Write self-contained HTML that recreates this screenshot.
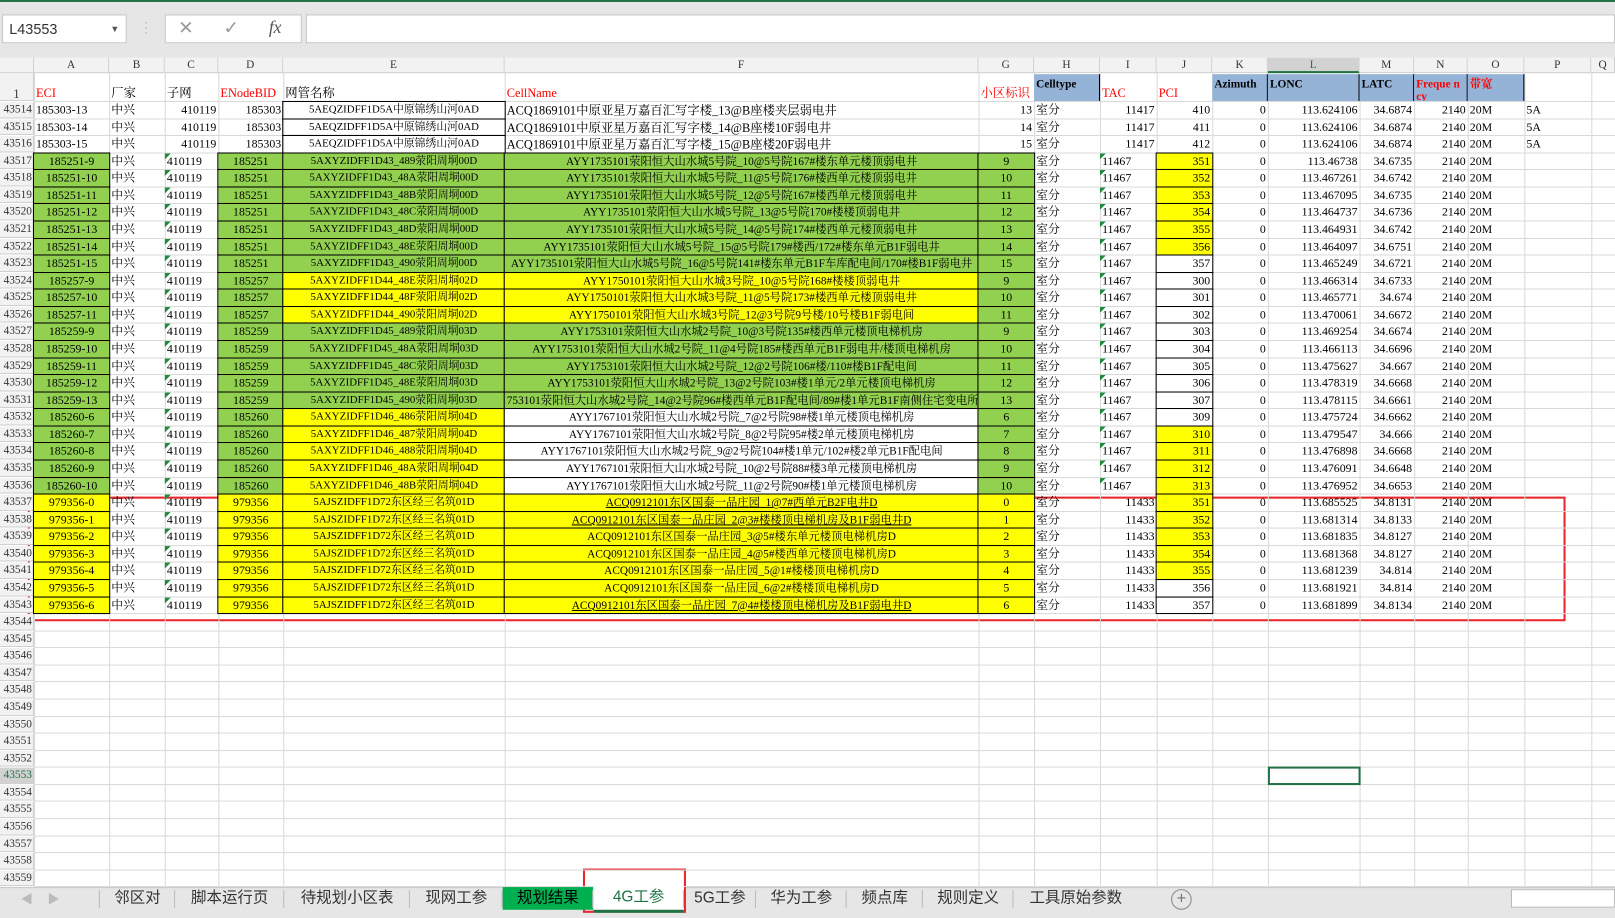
<!DOCTYPE html>
<html><head><meta charset="utf-8">
<style>
html,body{margin:0;padding:0;width:1615px;height:917px;overflow:hidden;background:#fff;}
#wrap{position:absolute;left:0;top:0;width:1568px;height:890px;transform-origin:0 0;transform:scale(1.02997,1.0303);background:#fff;font-family:"Liberation Serif","Noto Serif CJK SC",serif;}
.c{position:absolute;box-sizing:border-box;white-space:nowrap;overflow:hidden;font-size:11.5px;line-height:16px;padding:0 2px;color:#000;}
.hd{position:absolute;box-sizing:border-box;background:#f2f2f2;border-right:1px solid #d0d0d0;border-bottom:1px solid #d0d0d0;font-size:11px;text-align:center;color:#333;}
.tab{position:absolute;top:861px;height:22px;line-height:22px;font-family:"Liberation Sans","Noto Sans CJK SC",sans-serif;font-size:15px;color:#333;text-align:center;}
.sep{position:absolute;top:864px;width:1px;height:17px;background:#bbb;}
</style></head><body>
<div id="wrap">
  <div style="position:absolute;left:0;top:0;width:1568px;height:2px;background:#217346"></div>
  <div style="position:absolute;left:0;top:2px;width:1568px;height:54px;background:#e6e6e6"></div>
  <div style="position:absolute;left:2px;top:14px;width:121px;height:28px;background:#fff;border:1px solid #c6c6c6;box-sizing:border-box;font-family:'Liberation Sans',sans-serif;font-size:14px;line-height:26px;padding-left:6px;color:#333">L43553<span style="position:absolute;right:6px;top:0;font-size:9px;color:#555">▼</span></div>
  <div style="position:absolute;left:140px;top:20px;color:#aaa;font-size:12px;line-height:5px">·<br>·<br>·</div>
  <div style="position:absolute;left:160px;top:14px;width:133px;height:28px;background:#fff;border:1px solid #c6c6c6;box-sizing:border-box">
    <span style="position:absolute;left:12px;top:2px;font-size:18px;color:#999;font-family:'DejaVu Sans',sans-serif">✕</span>
    <span style="position:absolute;left:56px;top:2px;font-size:18px;color:#999;font-family:'DejaVu Sans',sans-serif">✓</span>
    <span style="position:absolute;left:100px;top:2px;font-size:17px;font-style:italic;color:#555;font-family:'Liberation Serif',serif">fx</span>
  </div>
  <div style="position:absolute;left:297px;top:14px;width:1271px;height:28px;background:#fff;border:1px solid #c6c6c6;box-sizing:border-box"></div>
  <div id="grid"></div>
  <div style="position:absolute;left:27px;top:482px;width:1493px;height:121px;border:2px solid #e8262b;box-sizing:border-box"></div>
  <div style="position:absolute;left:0;top:861px;width:1568px;height:29px;background:#e6e6e6;border-top:1px solid #c8c8c8"></div>
  <div style="position:absolute;left:20px;top:864px;color:#bbb;font-size:12px">◀</div>
  <div style="position:absolute;left:46px;top:864px;color:#bbb;font-size:12px">▶</div>
  <div id="tabs"></div>
  <div style="position:absolute;left:1137px;top:863px;width:18px;height:18px;border:1px solid #888;border-radius:50%;text-align:center;line-height:18px;color:#777;font-size:16px;font-family:'Liberation Sans',sans-serif">+</div>
  <div style="position:absolute;left:1467px;top:863px;width:101px;height:18px;background:#fff;border:1px solid #bbb;box-sizing:border-box"></div>
  <div style="position:absolute;left:566px;top:843px;width:100px;height:43px;border:2px solid #e8262b;box-sizing:border-box"></div>
</div>
<script>
const colNames=["A","B","C","D","E","F","G","H","I","J","K","L","M","N","O","P","Q"];
const colX=[33,106,160,212,275,490,950,1004,1068,1123,1177,1231,1320,1373,1425,1480,1545,1600];
const rowNums=[];for(let n=43514;n<=43559;n++)rowNums.push(n);
const eci=["185303-13","185303-14","185303-15","185251-9","185251-10","185251-11","185251-12","185251-13","185251-14","185251-15","185257-9","185257-10","185257-11","185259-9","185259-10","185259-11","185259-12","185259-13","185260-6","185260-7","185260-8","185260-9","185260-10","979356-0","979356-1","979356-2","979356-3","979356-4","979356-5","979356-6"];
const enb=["185303","185303","185303","185251","185251","185251","185251","185251","185251","185251","185257","185257","185257","185259","185259","185259","185259","185259","185260","185260","185260","185260","185260","979356","979356","979356","979356","979356","979356","979356"];
const nmName=["5AEQZIDFF1D5A中原锦绣山河0AD","5AEQZIDFF1D5A中原锦绣山河0AD","5AEQZIDFF1D5A中原锦绣山河0AD","5AXYZIDFF1D43_489荥阳周垌00D","5AXYZIDFF1D43_48A荥阳周垌00D","5AXYZIDFF1D43_48B荥阳周垌00D","5AXYZIDFF1D43_48C荥阳周垌00D","5AXYZIDFF1D43_48D荥阳周垌00D","5AXYZIDFF1D43_48E荥阳周垌00D","5AXYZIDFF1D43_490荥阳周垌00D","5AXYZIDFF1D44_48E荥阳周垌02D","5AXYZIDFF1D44_48F荥阳周垌02D","5AXYZIDFF1D44_490荥阳周垌02D","5AXYZIDFF1D45_489荥阳周垌03D","5AXYZIDFF1D45_48A荥阳周垌03D","5AXYZIDFF1D45_48C荥阳周垌03D","5AXYZIDFF1D45_48E荥阳周垌03D","5AXYZIDFF1D45_490荥阳周垌03D","5AXYZIDFF1D46_486荥阳周垌04D","5AXYZIDFF1D46_487荥阳周垌04D","5AXYZIDFF1D46_488荥阳周垌04D","5AXYZIDFF1D46_48A荥阳周垌04D","5AXYZIDFF1D46_48B荥阳周垌04D","5AJSZIDFF1D72东区经三名筑01D","5AJSZIDFF1D72东区经三名筑01D","5AJSZIDFF1D72东区经三名筑01D","5AJSZIDFF1D72东区经三名筑01D","5AJSZIDFF1D72东区经三名筑01D","5AJSZIDFF1D72东区经三名筑01D","5AJSZIDFF1D72东区经三名筑01D"];
const cellName=["ACQ1869101中原亚星万嘉百汇写字楼_13@B座楼夹层弱电井","ACQ1869101中原亚星万嘉百汇写字楼_14@B座楼10F弱电井","ACQ1869101中原亚星万嘉百汇写字楼_15@B座楼20F弱电井",
"AYY1735101荥阳恒大山水城5号院_10@5号院167#楼东单元楼顶弱电井","AYY1735101荥阳恒大山水城5号院_11@5号院176#楼西单元楼顶弱电井","AYY1735101荥阳恒大山水城5号院_12@5号院167#楼西单元楼顶弱电井","AYY1735101荥阳恒大山水城5号院_13@5号院170#楼楼顶弱电井","AYY1735101荥阳恒大山水城5号院_14@5号院174#楼西单元楼顶弱电井","AYY1735101荥阳恒大山水城5号院_15@5号院179#楼西/172#楼东单元B1F弱电井","AYY1735101荥阳恒大山水城5号院_16@5号院141#楼东单元B1F车库配电间/170#楼B1F弱电井",
"AYY1750101荥阳恒大山水城3号院_10@5号院168#楼楼顶弱电井","AYY1750101荥阳恒大山水城3号院_11@5号院173#楼西单元楼顶弱电井","AYY1750101荥阳恒大山水城3号院_12@3号院9号楼/10号楼B1F弱电间",
"AYY1753101荥阳恒大山水城2号院_10@3号院135#楼西单元楼顶电梯机房","AYY1753101荥阳恒大山水城2号院_11@4号院185#楼西单元B1F弱电井/楼顶电梯机房","AYY1753101荥阳恒大山水城2号院_12@2号院106#楼/110#楼B1F配电间","AYY1753101荥阳恒大山水城2号院_13@2号院103#楼1单元/2单元楼顶电梯机房","753101荥阳恒大山水城2号院_14@2号院96#楼西单元B1F配电间/89#楼1单元B1F南侧住宅变电所",
"AYY1767101荥阳恒大山水城2号院_7@2号院98#楼1单元楼顶电梯机房","AYY1767101荥阳恒大山水城2号院_8@2号院95#楼2单元楼顶电梯机房","AYY1767101荥阳恒大山水城2号院_9@2号院104#楼1单元/102#楼2单元B1F配电间","AYY1767101荥阳恒大山水城2号院_10@2号院88#楼3单元楼顶电梯机房","AYY1767101荥阳恒大山水城2号院_11@2号院90#楼1单元楼顶电梯机房",
"ACQ0912101东区国泰一品庄园_1@7#西单元B2F电井D","ACQ0912101东区国泰一品庄园_2@3#楼楼顶电梯机房及B1F弱电井D","ACQ0912101东区国泰一品庄园_3@5#楼东单元楼顶电梯机房D","ACQ0912101东区国泰一品庄园_4@5#楼西单元楼顶电梯机房D","ACQ0912101东区国泰一品庄园_5@1#楼楼顶电梯机房D","ACQ0912101东区国泰一品庄园_6@2#楼楼顶电梯机房D","ACQ0912101东区国泰一品庄园_7@4#楼楼顶电梯机房及B1F弱电井D"];
const cellId=["13","14","15","9","10","11","12","13","14","15","9","10","11","9","10","11","12","13","6","7","8","9","10","0","1","2","3","4","5","6"];
const tac=["11417","11417","11417","11467","11467","11467","11467","11467","11467","11467","11467","11467","11467","11467","11467","11467","11467","11467","11467","11467","11467","11467","11467","11433","11433","11433","11433","11433","11433","11433"];
const pci=["410","411","412","351","352","353","354","355","356","357","300","301","302","303","304","305","306","307","309","310","311","312","313","351","352","353","354","355","356","357"];
const lon=["113.624106","113.624106","113.624106","113.46738","113.467261","113.467095","113.464737","113.464931","113.464097","113.465249","113.466314","113.465771","113.470061","113.469254","113.466113","113.475627","113.478319","113.478115","113.475724","113.479547","113.476898","113.476091","113.476952","113.685525","113.681314","113.681835","113.681368","113.681239","113.681921","113.681899"];
const lat=["34.6874","34.6874","34.6874","34.6735","34.6742","34.6735","34.6736","34.6742","34.6751","34.6721","34.6733","34.674","34.6672","34.6674","34.6696","34.667","34.6668","34.6661","34.6662","34.666","34.6668","34.6648","34.6653","34.8131","34.8133","34.8127","34.8127","34.814","34.814","34.8134"];
// fill codes per row: A,D,E,F,G,J  (w=white g=green y=yellow)
const fills=["wwwwww","wwwwww","wwwwww","gggggy","gggggy","gggggy","gggggy","gggggy","gggggy","gggggw","ggyygw","ggyygw","ggyygw","gggggw","gggggw","gggggw","gggggw","gggggw","ggywgw","ggywgy","ggywgy","ggywgy","ggywgy","yyyyyy","yyyyyy","yyyyyy","yyyyyy","yyyyyy","yyyyyw","yyyyyw"];
const underline=[23,24,29];

const wrap=document.getElementById('wrap');
const TOP=98, RH=16.57, HDRY=56, HDRH=15;
const COL={g:"#92d050",y:"#ffff00",w:"#ffffff"};
function rowY(i){return TOP+i*RH;}
function mk(x,y,w,h,cls){const d=document.createElement('div');d.className=cls;d.style.left=x+'px';d.style.top=y+'px';d.style.width=w+'px';d.style.height=h+'px';wrap.appendChild(d);return d;}

// gridlines
const totalBottom=rowY(rowNums.length);
for(let k=0;k<colX.length;k++){
  const l=mk(colX[k],HDRY,1,totalBottom-HDRY,'');l.style.position='absolute';l.style.background='#d9d9d9';
  
  
}
for(let i=0;i<=rowNums.length;i++){
  const l=mk(33,rowY(i),1535,1,'');l.style.position='absolute';l.style.background='#d9d9d9';
  
  
}
// column headers
const corner=mk(0,HDRY,33,HDRH,'hd');


for(let k=0;k<colNames.length;k++){
  const w=Math.min(colX[k+1],1568)-colX[k];
  const h=mk(colX[k],HDRY,w,HDRH,'hd');h.textContent=colNames[k];h.style.lineHeight=HDRH+'px';
  if(colNames[k]==="L"){h.style.background='#d2d2d2';h.style.borderBottom='2px solid #217346';h.style.color='#217346';}
  
  
}
// row header for row 1
const r1=mk(0,HDRY+HDRH,33,TOP-HDRY-HDRH,'hd');r1.textContent='1';r1.style.lineHeight='40px';r1.style.fontSize='12px';


// header row 1 cells
const hdrTexts=["ECI","厂家","子网","ENodeBID","网管名称","CellName","小区标识","Celltype","TAC","PCI","Azimuth","LONC","LATC","Freque ncy","带宽",""];
const hdrRed=[1,0,0,1,0,1,1,0,1,1,0,0,0,1,1,0];
const hdrBlue=[0,0,0,0,0,0,0,1,0,0,1,1,1,1,1,0];
for(let k=0;k<hdrTexts.length;k++){
  const x=colX[k],w=colX[k+1]-colX[k],y=HDRY+HDRH+1,h=TOP-y;
  const c=mk(x,y,w,h,'c');
  if(hdrBlue[k]){c.style.background='#95b3d7';c.style.borderRight='1px solid #000';}
  c.style.color=hdrRed[k]?'#ff0000':'#000';
  c.style.fontSize='12px';
  if(hdrBlue[k]){c.style.fontWeight='bold';c.style.fontSize='11px';c.style.lineHeight='12px';c.style.paddingTop='4px';c.style.whiteSpace='normal';c.style.wordBreak='break-all';}
  else{c.style.lineHeight='14px';c.style.paddingTop='11px';}
  c.textContent=hdrTexts[k];
  
  
}
// row headers + data
function cell(i,k,text,align,bg,extra){
  const x=colX[k],w=colX[k+1]-colX[k],y=rowY(i)+1,h=RH-1;
  const c=mk(x,y,w,h,'c');c.textContent=text;c.style.textAlign=align;
  if(bg&&bg!=='n'){c.style.background=COL[bg];c.style.outline='1px solid #000';c.style.zIndex=1;}
  if(extra)extra(c);
  
  
  return c;
}
function tri(c){c.style.backgroundImage='linear-gradient(135deg,#1e8c3a 0,#1e8c3a 4px,transparent 4px)';}
for(let i=0;i<rowNums.length;i++){
  const rh=mk(0,rowY(i)+1,33,RH-1,'hd');rh.textContent=String(rowNums[i]);rh.style.lineHeight=(RH-1)+'px';rh.style.textAlign='right';rh.style.paddingRight='1px';rh.style.fontSize='11px';rh.style.overflow='hidden';
  if(rowNums[i]===43553){rh.style.color='#217346';rh.style.background='#d2d2d2';}
  
  
  if(i>=eci.length)continue;
  const f=fills[i], first=i<3, mid=(i>=3&&i<23);
  cell(i,0,eci[i],first?'left':'center',first?null:f[0]);
  cell(i,1,'中兴','left',null);
  cell(i,2,'410119',first?'right':'left',null,first?null:tri);
  cell(i,3,enb[i],first?'right':'center',first?null:f[1]);
  cell(i,4,nmName[i],'center',first?null:f[2],first?(c=>{c.style.outline='1px solid #000';c.style.zIndex=1;c.style.fontSize='10.5px';}):(c=>{c.style.fontSize='10.5px';}));
  cell(i,5,cellName[i],first?'left':(i===17?'left':'center'),first?null:f[3],c=>{c.style.fontSize=first?'12px':'11px';if(underline.indexOf(i)>=0)c.style.textDecoration='underline';if(!first&&f[3]==='w'){c.style.outline='1px solid #000';c.style.zIndex=1;}});
  cell(i,6,cellId[i],first?'right':'center',first?null:f[4]);
  cell(i,7,'室分','left',null);
  cell(i,8,tac[i],mid?'left':'right',null,mid?tri:null);
  cell(i,9,pci[i],'right',first?null:f[5],c=>{if(!first){c.style.outline='1px solid #000';c.style.zIndex=1;}});
  cell(i,10,'0','right',null);
  cell(i,11,lon[i],'right',null);
  cell(i,12,lat[i],'right',null);
  cell(i,13,'2140','right',null);
  cell(i,14,'20M','left',null);
  if(first)cell(i,15,'5A','left',null);
}
// selected cell L43553
const si=rowNums.indexOf(43553);
const sel=mk(colX[11],rowY(si),colX[12]-colX[11]+1,RH+1,'');sel.style.position='absolute';sel.style.border='2px solid #217346';sel.style.boxSizing='border-box';sel.style.zIndex=3;


// tabs
const tabNames=["邻区对","脚本运行页","待规划小区表","现网工参","规划结果","4G工参","5G工参","华为工参","频点库","规则定义","工具原始参数"];
const tabX=[97,170,276,398,488,576,664,734,822,896,984,1105];
for(let t=0;t<tabNames.length;t++){
  const d=mk(tabX[t],861,tabX[t+1]-tabX[t],22,'tab');d.textContent=tabNames[t];
  if(t===4){d.style.background='#00b050';d.style.color='#000';}
  if(t===5){d.style.background='#fff';d.style.color='#217346';d.style.borderBottom='3px solid #217346';d.style.height='23px';d.style.top='860px';}
  
  
  const s=mk(tabX[t]-1,864,1,17,'sep');
  
  
}
</script>
</body></html>
